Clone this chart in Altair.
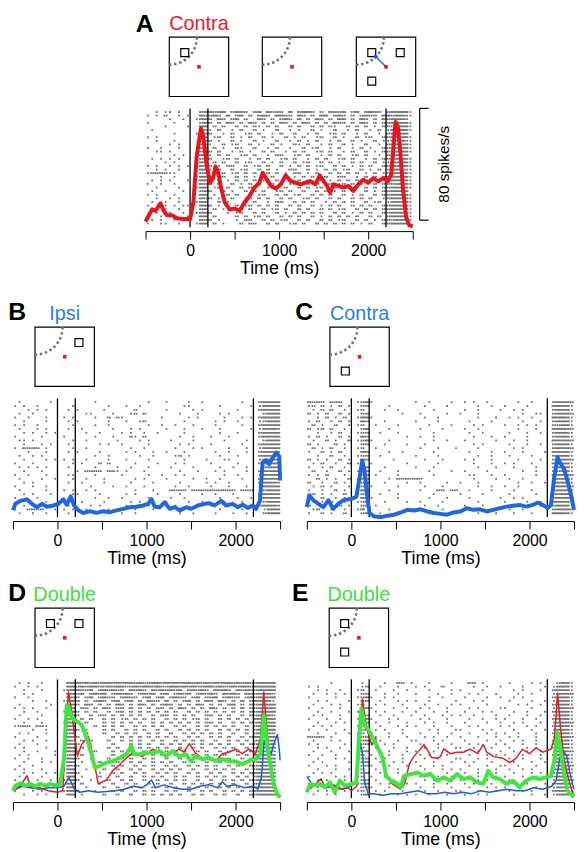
import altair as alt
import pandas as pd

FONT = "Liberation Sans"
RED, BLUE, GREEN = "#e8161c", "#1f66e5", "#3fe63f"
RED_THIN, BLUE_THIN = "#d9232a", "#1f5fd6"
TITLE_RED, TITLE_BLUE, TITLE_GREEN = "#e02229", "#2b7de3", "#40e040"
GRAY = "#707070"

EVENTS = [0, 200, 2200]
TICKS = [-500, 0, 500, 1000, 1500, 2000, 2500]
T0, BIN = -500, 50
W, H = 270, 120
RATE_MAX = 85

# ---------------- PSTH data (spikes/s) ----------------
A_T = [-500, -463, -426, -389, -333, -296, -259, -204, -148, -74, 0, 37, 74, 122, 148, 185, 222, 259, 285, 315,
       352, 389, 444, 500, 556, 611, 667, 722, 778, 815, 852, 907, 963, 1019, 1074, 1130, 1185, 1241, 1296, 1352,
       1407, 1456, 1500, 1537, 1574, 1611, 1667, 1722, 1778, 1833, 1889, 1944, 2000, 2056, 2111, 2167, 2222, 2259,
       2278, 2307, 2333, 2359, 2389, 2426, 2463, 2500]
A_RED = [4.0, 8.5, 12.7, 11.7, 17.0, 11.7, 8.5, 8.5, 6.4, 5.8, 5.8, 17.7, 50.7, 70.7, 64.7, 45.6, 31.8, 35.0, 43.5, 39.2,
         27.1, 17.7, 12.7, 13.3, 11.7, 17.7, 22.3, 28.3, 31.8, 38.9, 35.0, 29.5, 27.6, 30.7, 37.1, 32.9, 31.8, 30.7, 31.8, 32.9,
         30.7, 37.1, 32.9, 29.5, 24.7, 30.7, 29.5, 28.3, 29.5, 25.9, 30.7, 33.9, 31.8, 35.0, 32.9, 35.0, 32.9, 37.7,
         53.0, 75.3, 72.1, 55.1, 28.3, 7.1, 1.2, 0.7]

B_T = [-500, -473, -417, -343, -287, -231, -175, -119, -45, 11, 67, 104, 149, 186, 235, 291, 365, 440, 514, 589,
       663, 738, 813, 887, 962, 1018, 1055, 1092, 1148, 1204, 1260, 1316, 1372, 1446, 1502, 1577, 1651, 1707, 1763, 1838,
       1893, 1968, 2024, 2080, 2136, 2192, 2229, 2274, 2303, 2341, 2378, 2415, 2460, 2490, 2500]
B_BLUE = [5.0, 9.5, 11.6, 12.7, 9.5, 7.1, 9.5, 7.4, 8.3, 9.5, 12.7, 8.9, 14.8, 8.3, 4.8, 3.0, 4.2, 3.0, 4.2, 3.5,
          4.8, 5.9, 7.1, 7.4, 8.3, 9.5, 12.9, 7.4, 7.1, 10.6, 5.9, 7.1, 4.8, 7.1, 5.9, 8.3, 9.5, 9.9, 8.3, 11.7,
          8.3, 9.5, 7.1, 8.9, 6.6, 8.3, 5.9, 11.7, 39.1, 40.7, 37.9, 42.4, 46.2, 43.5, 26.2]

C_T = [-500, -474, -426, -370, -315, -259, -204, -148, -93, -37, 0, 56, 93, 122, 148, 178, 204, 259, 333, 407,
       481, 556, 630, 704, 778, 852, 926, 1000, 1074, 1148, 1222, 1296, 1370, 1444, 1519, 1593, 1667, 1741, 1815, 1889,
       1963, 2037, 2093, 2148, 2204, 2241, 2278, 2315, 2352, 2389, 2426, 2463, 2500]
C_BLUE = [7.1, 15.6, 12.0, 9.5, 7.1, 12.0, 5.9, 9.5, 12.0, 12.7, 12.9, 14.6, 28.5, 40.3, 33.2, 14.6, 2.9, 0.4, 0.0, 1.0,
          1.7, 3.3, 5.2, 4.7, 5.6, 4.0, 2.9, 2.3, 1.7, 3.3, 4.0, 6.4, 5.2, 5.6, 4.0, 5.2, 6.4, 7.5, 8.1, 8.7,
          7.5, 8.7, 10.4, 8.7, 6.4, 8.7, 28.5, 42.6, 37.9, 34.3, 26.2, 16.7, 5.2]

DG_T = [-500, -472, -416, -361, -305, -249, -193, -138, -82, -26, 30, 74, 104, 130, 160, 216, 271, 327, 383, 420,
        476, 550, 625, 699, 773, 829, 866, 922, 996, 1071, 1145, 1219, 1294, 1368, 1442, 1498, 1554, 1628, 1703, 1777,
        1851, 1926, 2000, 2074, 2149, 2223, 2279, 2316, 2353, 2390, 2428, 2465, 2500]
D_GREEN = [5.4, 8.9, 10.6, 8.9, 10.2, 8.3, 10.2, 8.9, 10.2, 8.9, 10.2, 28.6, 66.7, 64.3, 57.2, 54.9, 52.6, 43.1, 31.4, 21.9,
           23.1, 25.4, 26.6, 28.9, 31.4, 37.2, 31.4, 31.4, 32.5, 32.5, 33.7, 30.1, 33.7, 30.1, 31.4, 26.6, 30.1, 27.8, 28.9, 26.6,
           27.8, 26.6, 26.2, 24.3, 26.6, 27.8, 31.4, 59.6, 38.4, 24.3, 10.2, 3.1, 0.5]
DR_T = [-500, -420, -342, -305, -200, -100, 0, 60, 86, 123, 160, 197, 223, 271, 346, 400, 457, 550, 625, 700,
        773, 850, 950, 1071, 1145, 1220, 1300, 1368, 1420, 1480, 1554, 1628, 1700, 1777, 1850, 1926, 2000, 2074, 2149, 2223,
        2279, 2316, 2353, 2400, 2440, 2500]
D_RED = [5.3, 8.5, 16.0, 8.5, 7.4, 5.3, 4.2, 5.3, 38.0, 76.0, 61.5, 43.0, 30.0, 38.4, 44.3, 30.0, 10.2, 13.0, 20.0, 24.0,
         28.6, 32.9, 29.7, 35.0, 32.9, 30.7, 32.9, 35.0, 33.0, 39.0, 31.8, 28.6, 27.6, 26.5, 31.8, 32.9, 35.0, 31.8, 35.0, 31.8,
         42.4, 76.0, 47.7, 15.9, 5.3, 0.5]
DB_T = [-500, -400, -300, -200, -100, 0, 70, 130, 190, 250, 350, 450, 550, 650, 750, 850, 950, 1000, 1055, 1100,
        1200, 1300, 1400, 1500, 1600, 1700, 1800, 1850, 1900, 2000, 2100, 2200, 2250, 2290, 2320, 2360, 2400, 2430, 2470, 2490,
        2500]
D_BLUE = [5.3, 8.5, 7.4, 6.4, 7.4, 7.4, 8.5, 14.8, 6.4, 4.2, 5.3, 4.2, 4.8, 5.3, 6.4, 8.5, 7.4, 9.5, 13.0, 7.4,
          9.5, 7.4, 6.4, 6.4, 8.5, 9.5, 7.4, 11.7, 8.5, 9.5, 7.4, 8.5, 6.4, 14.8, 41.0, 35.0, 31.8, 39.0, 45.6, 35.0,
          27.0]

EG_T = [-500, -463, -407, -352, -296, -241, -185, -130, -74, 0, 56, 81, 111, 148, 204, 259, 315, 352, 389, 444,
        519, 556, 593, 667, 741, 815, 889, 963, 1037, 1111, 1185, 1259, 1333, 1407, 1481, 1537, 1593, 1667, 1741, 1815,
        1889, 1963, 2037, 2111, 2185, 2241, 2278, 2315, 2352, 2389, 2426, 2500]
E_GREEN = [4.2, 10.2, 8.9, 10.2, 7.7, 11.3, 4.2, 12.5, 8.9, 10.2, 11.3, 38.4, 64.3, 52.6, 47.8, 40.7, 33.7, 28.9, 16.0, 12.5,
           10.2, 7.7, 16.0, 17.2, 18.3, 16.0, 17.2, 12.5, 14.8, 12.5, 17.2, 13.7, 14.8, 11.3, 10.2, 19.5, 14.8, 13.7, 10.2, 12.5,
           7.7, 12.5, 14.8, 13.7, 14.8, 16.0, 26.6, 46.6, 33.7, 17.2, 5.4, 0.7]
ER_T = [-500, -450, -340, -300, -200, -100, -40, 0, 60, 90, 111, 125, 150, 180, 230, 270, 300, 350, 400, 450,
        500, 550, 600, 650, 700, 760, 815, 850, 900, 960, 1000, 1037, 1111, 1185, 1260, 1333, 1420, 1480, 1520, 1600,
        1700, 1780, 1850, 1920, 2000, 2074, 2150, 2240, 2280, 2315, 2352, 2390, 2430, 2470, 2500]
E_RED = [5.3, 7.4, 13.8, 8.5, 9.5, 6.4, 7.4, 5.3, 8.5, 37.0, 58.0, 71.0, 58.0, 48.0, 38.0, 43.0, 35.0, 26.5, 16.0, 10.6,
         8.5, 6.4, 10.6, 24.4, 29.7, 34.0, 38.2, 35.0, 29.0, 28.6, 29.7, 35.3, 31.8, 32.9, 32.9, 35.0, 31.8, 38.4, 32.9, 29.7,
         28.6, 25.4, 28.6, 34.9, 31.8, 36.0, 32.9, 35.0, 42.4, 75.0, 47.7, 26.5, 15.9, 6.4, 2.1]
EB_T = [-500, -470, -430, -380, -330, -280, -200, -130, -60, 0, 60, 100, 125, 150, 190, 250, 350, 450, 550, 650,
        750, 850, 950, 1050, 1150, 1250, 1350, 1450, 1550, 1650, 1750, 1850, 1950, 2050, 2150, 2250, 2300, 2340, 2380, 2420,
        2460, 2500]
E_BLUE = [15.6, 12.7, 8.5, 9.5, 8.5, 7.4, 8.5, 6.4, 7.4, 8.5, 12.7, 39.3, 31.8, 10.6, 3.2, 3.2, 2.1, 3.2, 3.2, 4.2,
          5.3, 3.2, 3.2, 4.2, 3.2, 4.2, 3.2, 5.3, 4.2, 5.3, 6.4, 5.3, 5.3, 7.4, 6.4, 8.5, 12.7, 28.6, 33.9, 29.7,
          15.9, 6.4]

# ---------------- Rasters: spikes per 50 ms bin, -500..2500 ms (60 bins per trial) ----------------
A_RASTER = [
    "..1.11.1.." "..23" "3223.2332." "23.3222.3." "2332.2.322" "3.23.2322." "233331",
    "1.1.2..1.1" "..32" "232.3.23.2" ".232.3322." "32.2.33.23" "2.2.2322.3" "323321",
    ".....1..1." ".133" "2.32.23.2." ".32.2.232." "3.2.32.2.3" "3.2.32.2.3" "233320",
    "1.....1..." "..23" "2.2.32.2.3" "2.2.2.32.2" ".32.2.2.32" "2.2.32.2.2" "233331",
    "....1....1" "..33" ".2.2..2.2." "21.2.2..2." "2..2.2.21." ".2.2.2.1.2" "223331",
    ".1........" "..32" "1.2..1.2.." "2.1..2..1." "1..2.1..2." ".1.2..1.2." "133331",
    "......1..." ".123" "2..1.2..12" ".2..1.2..2" "..1.2..12." "2..1.2..1." "233330",
    "1.1......." "..33" ".12..2.1.2" "..2.1..2.1" ".2..12..2." "1..2.12..2" "233331",
    "..1...1..." "..23" "2.1..2.1.." "2.1..2..1." "2.1.2..1.2" "..2.1..2.1" "133321",
    ".....1.1.." "..32" "1..2.12..2" ".1..2.1..2" "1.2..1.2.." "2.1..2..1." "233331",
    "1..1...1.." ".133" ".2.1..21.." "2..1.2..1." ".2.12..1.2" "..1.2.1..2" "233331",
    "..11.1...." "..23" "2.2..1.2.1" "..2.2..1.2" ".2..12.2.." "1.2..2.1.2" "223331",
    "......1.1." "..33" "1.2.2..12." "2..1.22..1" "2.2..1.2.2" "..12.2..1." "233330",
    ".1.1.1.1.." ".123" "2..12.2..1" ".2.2..12.2" "..1.2.2..1" "2.2..1.2.2" "233331",
    "....1.1..." "..33" ".2.2..2.12" "..2.1.2..2" ".12..2.2.1" "..2.2..2.1" "133331",
    "1.1..1.1.1" "..32" "2.1.22..2." "12.2..2.1." "2.2.12..2." "2.1.2.2..2" "233331",
    "..1.1..1.." "..33" "1.2..2.12." ".2.2.1..22" "..2.1.2.2." "12..2.1.2." "233321",
    "1222211..." "..23" ".2.2.12.2." "2..2.2.1.2" "2.1.2..2.2" ".2.2.1.2.1" "233331",
    "...1..1..." ".133" "2.12..2.2." "1.2.2..2.1" ".2.2.12..2" "2..1.2.2.2" "233331",
    ".1.1.1...1" "..33" "..2.1.2.2." "2.12.2..2." "2.2..2.1.2" ".2.2.2..2." "233331",
    "1..1..1..." "..32" "2.2..2.1.2" ".2..2.2.12" "..2.2..2.1" "2.2.1..2.2" "223331",
    "..1....1.." ".133" ".12.2..2.2" "2..1.2.2.." "2.2.12..2." "1.2..2.2.2" "233331",
    ".1..1...1." "..23" "2..2.1..2." "2.2..12.2." ".2..2.2.1." "2.2..2.1.2" "233330",
    "1.1...1..." "..33" ".1..2.2..2" ".12..2.2.1" "2..2.2.2.." "2.1.2..2.2" "233331",
    "..1..1.1.." "..32" "2.1..2..12" ".2.2..2.2." ".12.2..2.2" "..2.2.2..1" "233331",
    ".1..1..1.." ".133" "..2.1...2." "2..1.22..2" ".2.2..1.2." "2.2..2.12." "133331",
    "1...1.1.11" "..33" "2.1...2.12" ".2.2.2..2." "2..2.1.2.2" "..2.2.2..2" "233331",
    ".11.1..1.." "..23" ".2.1...2.2" "..2.12.2.." "2.2..2.2.1" "2..2.2.2.2" "233321",
    "..1..1..1." ".133" "2...1.12.." "2.2..2.1.2" ".2.2.2..2." "2.1.2.2..2" "233331",
    "1..1.1...1" "..33" ".2....2.2." "12.2..2.2." "2..2.1.2.2" ".2.2..2.2." "233331",
    ".1.1..1.1." "..32" "2.1...1.22" "..2.2.12.." "2.2..2.2.1" "2..2.2.1.2" "223331",
    "1..11..1.." ".133" ".2.1...2.2" "2..2.2..12" ".2..2.2.2." "2.2.1.2..2" "233330",
]

B_RASTER = [
    ".1......1." "...." "....1....." "......1..." "1....1..1." ".......1.." ".23333",
    "1.1..1...." "...1" ".......1.." ".1..1....." "....11...." "..1......1" ".13333",
    "...1.1.1.." "..1." "1.....1..." "...2......" "1.....1.1." "......1..." ".23333",
    ".1..1....." "...." "..11....1." "..12.2...." "...1...1.." "..1.1....." "..2333",
    "1..1...1.." ".1.1" "....1..2.2" "1........1" ".....1.1.." "...1...1.1" ".23333",
    "..1....1.." "..1." "1......1.." ".1..12...." "....1....." ".1.1..1..." ".12333",
    "1.1..1...." "...1" "....1..1.." "......1..1" "..1...1..." ".1.....1.." ".23333",
    ".1...1.1.." "..1." ".1......1." "..1.1....." "1...1...1." "..1......1" ".13332",
    "..1.1..1.1" "...." "..1..1...." "1.1..1..1." "....1....." "..1...1..." ".23333",
    "1.....1..." ".1.." "....1...1." "..21.2...." "...1..1..." "1...1....." ".23333",
    ".11.1....." "...1" "..1......1" "....1.1..." ".1....1..." "...1....1." "..2333",
    "..1...1.1." "..1." ".....1.1.." "1.....1..." "...1.1...." "1......1.." ".23333",
    "1.2222.1.." "...1" "..1......." "..1..1...." "..1...1.1." "....1...1." ".13333",
    "...1...1.." "..1." "1....1...." ".1.1...1.." "1...1....." ".1..1...1." ".23332",
    ".1..1.1..." "...." "....1..1.." "....1..1.." "..12.1...." "..1...1..." ".23333",
    "..1....1.1" ".1.1" "..1....1.." ".1....1..." "....1....1" "...11....." ".13333",
    "1...1....." "...1" ".1...2.2.." "...1....1." "..1.1....." "1.....1..." ".23333",
    ".1.1.1.1.." "..1." "....1....1" "..1...1..." ".1....1..." "..1..1..1." "..2333",
    "..1...1..." "...." "1.2222.221" ".1...1...." "...1...1.." ".1.1....1." ".23333",
    "1..1...1.." "..11" "....1....." "1.....1..1" "..1.1....." "...1..1..." ".13333",
    ".1....1..1" "...1" "..1...1..." "...1.1...." "1.....1..1" "..1....1.." ".23333",
    "..1.1....." "..1." ".1....1..." "..1....1.." "...1.....1" ".1..1....." ".23332",
    "1...1..1.." "...." "...1....1." ".1...1...." "..1..1...." "1...1...1." ".13333",
    ".1.....1.." ".1.1" "..1.1....." "...1...1.." ".2222.2222" "222222.222" "..2333",
    "..1.1...1." "...1" "1....1...." ".1.1....1." "...1....1." ".1...1...." ".23333",
    "1....1...." "..1." "....1..1.." "1.....1..." ".1..1....." "..1...1..1" ".13333",
    ".1.1...1.." "...." ".1....1..." "..1.1....." "1....1..1." "...1...1.." ".12333",
    "..1...1..1" "..1." "...1.1...." ".1....1..1" "..1....1.." "1...1....." ".23332",
    "1..2222..1" ".1.1" "..1....1.." "...1...1.." ".1...1...." "..1....1.." "..1333",
    ".1..1..1.." "..1." ".1.....1.." "1..1......" "...1..1..." ".1...1..1." "..2333",
]

C_RASTER = [
    "2222.222.." ".123" "1........." "1..1....1." ".1.1..1..." "...1..1..." ".23332",
    "12.2.1.2.1" "..22" "....1....." "..1....1.." "....1..1.." "1....1...." ".33331",
    ".1.2.2..1." ".12." "...1..1..." "....1....." ".1..1....1" "..1.1....." ".23331",
    "2.1.2..2.1" "..22" ".......1.." ".1.....1.." "1...1....." "....1..11." ".23332",
    "..1.2.1.2." ".133" "1........." "..1..1...." "....1...1." ".1.1..1..." ".33331",
    "1.2..1.2.1" "..32" "...1......" "1....1...." "..1....1.." "....1...1." ".23331",
    ".2.1..2..1" ".12." ".1....1..." "...1....1." "...1.1...." "1..1.1.1.." ".22331",
    "2.12.2..1." "..23" "....1....." ".1....1..." ".1..1....." "...1...1.." ".33332",
    "..1..1.2.." ".122" "..1...1..." "....1....." "..1..1...." ".1...1..1." ".23331",
    "1.2.1..2.1" "..32" "........1." ".1..1....." "...1...1.." "1....1...." ".23331",
    ".1..2.1..2" ".123" "1...1....." "....1..1.." ".1......1." "..1..1...." ".33332",
    "2.1...2.1." "..22" "...1....1." "..1......." "...1.1...." ".1...1..1." ".23331",
    ".2.1.2..1." ".12." ".1........" ".1...1...1" "....1....." "..1.1....." ".23332",
    "1..2.1.2.." "..33" "....1..1.." "....1....." "..1....1.." "1...1....1" ".33331",
    "..1..2..1." ".122" "..1......." "1....1...." "....1..1.." ".1....1..." ".23331",
    "2.1.1..2.1" "..32" ".....1...." "..1...1..." ".1.1...1.." "...1....1." ".23332",
    ".1.2..1..2" ".12." "1.......1." ".....1...." "...1...1.." "1.1...1..." ".33331",
    "1..1.2..1." "..23" "...1......" "1...1....." "....1...1." "..1....1.." ".23331",
    ".2..1..2.1" ".123" "..1...1..." "...1....1." ".1....1..." "....1..1.." ".22331",
    "1.1.2...1." "..22" ".1....1..." "....1....." "..11...1.." "1......1.." ".33332",
    "..2.1.1..2" ".132" "....1.2222" "22........" "...1....1." ".1..1....." ".23331",
    "2..1..2.1." "..23" "...1....1." ".1.....1.." "1...1....." "...1..1..1" ".23331",
    ".1.2.1...1" ".12." "1.....1..." "..1...1..." "....1..1.." "1..1......" ".33332",
    "1..1..2.1." "..33" "....1....." ".1...22.22" "..1....1.." "..1...1..." ".23331",
    ".2.1.1..2." ".122" "..1...1..." "....1....." "1....1...." ".1.....1.." ".23331",
    "1..2..1.1." "..32" "1.....1..." "...1...1.." "..1......1" "..1.1....." ".23332",
    ".1.1.2..1." ".123" "...1....1." ".1....1..." "....1....." "1....1..1." ".33331",
    "2..1...2.1" "..22" ".1........" "..1..1...." ".1...1...." "...1....1." ".23331",
    ".12..1..1." ".13." "....1...1." "1.....1..." "..1....1.." ".1..1....." ".23332",
    "1..2.1..2." "..23" "..1......." "...1.1...." "....1...1." "..1...1..." ".33331",
]

D_RASTER = [
    ".1.1..1..." "..33" "3232323323" "2332322332" "3232332323" "2323323232" "23333.",
    "1..1.1...." "..33" "2323322323" "3223233232" "2332323223" "3232232332" "33333.",
    "..1...1..." ".133" "3223.23232" "2.3232.323" "2323.23232" ".3232.3232" "23333.",
    "..1.1....." "..33" "23.2323.23" "232.2323.2" "3.2323.232" "32.3232.32" "23332.",
    "1..1......" "..32" "2.23.2322." "2322.23.23" ".2322.23.2" "23.2322.23" "23333.",
    "....1..1.." ".133" "3.2.232.23" ".23.2.322." "3.2.23.2.3" "2.32.2.3.2" "33331.",
    ".1......1." "..33" "2.32.2.2.3" "2.2.32.2.2" "32.2.2.32." "2.2.23.2.2" "23333.",
    "1.1.1..1.." "..33" ".22.2.32.2" "2.3.2.2.22" ".2.32.2.2." "32.2.2.3.2" "23333.",
    "..1..1...." ".123" "2.2.2..2.2" "2.2.2.2.2." "2.2..2.2.2" ".2.2.2.2.2" "23333.",
    ".1....1..." "..33" "2..2.22.2." "2.2.2..2.2" "2.2.2.2..2" "2.2.2..2.2" "23332.",
    "1..1.1...." "..32" ".2.2..2.2." "12.2.2.2.." "2.2.2.12.2" "..2.2.2.2." "33333.",
    "..1...1..." ".133" "2.2...2.2." "2.2.2..2.2" ".2.2.2.2.2" "2.2..2.2.2" "23333.",
    "1222.221.." "..33" ".2..2.2.2." "2..2.2.2.2" "..2.2..2.2" ".2.2.2..2." "23333.",
    "....1..1.." "..33" "2.1...2.2." ".2.2.2..2." "2..2.2.2.2" "..2.2.2.2." "23333.",
    ".1.1...1.." ".123" "..2...2..2" ".2.2..2.2." ".2..2.2.2." "2.2..2..2." "23332.",
    "1....1...." "..33" "2.2.....2." "2.2.2.2.2." "2.2..2.2.." "2.2.2..2.2" "33333.",
    "..1.1..1.." "..32" ".2.2...2.." "2.2.2..2.2" "..2.2.2.2." ".2..2.2.2." "23333.",
    ".1...1...." ".133" "2..1....2." "..2.2.2..2" ".2.2..2.2." "2.2.2..2.2" "23333.",
    "1.1....1.." "..33" ".2.1...2.2" "..2.2.2.2." "2..2..2.2." ".2.2.2..2." "23333.",
    "..1..1...1" "..33" "2...2...2." "2.2..2.2.." "2.2.2..2.2" "..2.2.2..2" "23332.",
    ".1.1.....1" ".123" ".2.1....2." "..2.2..2.2" "..2.2.2..2" ".2.2..2.2." "33333.",
    "1..1..1..." "..33" "2..1...2.." "2.2..2.2.." "2..2.2.2.." "2.2.2..2.2" "23333.",
    "..1...1.1." "..33" ".1...2...2" "..2.2..2.2" ".2..2.2..2" "..2.2.2.2." "23333.",
    ".1..1....." "..32" "2...1...2." "2..2.2.2.." "2.2..2.2.2" ".2..2.2..2" "23333.",
    "1.1...1..." ".133" "..1...2..2" "..2.2..2.2" ".2.2..2..2" ".2.2.2..2." "23332.",
    "..1.1..1.1" "..33" "2....1..2." "2..2.2..2." "2.2..2.2.." "2.2..2.2.2" "33333.",
    ".1....1..." "..33" ".1...2...2" "..2..2.2.2" "..2.2..2.2" ".2.2..2.2." "23333.",
    "1..1.1..1." ".123" "2..1...2.." "2.2..2..2." "2.2.2..2.." "2..2.2.2.2" "23333.",
    "..1...1..." "..33" ".2...1..2." ".2.2..2.2." ".2..2.2.2." "2.2..2..2." "23333.",
    ".1.1...1.1" "..33" "..1...2..2" "..2.2..2.." "2.2..2.2.2" "..2.2.2..2" "23332.",
    "1...1.1..." ".133" "2...1...2." "2..2.2.2.." "2.2..2..2." "2..2.2.2.2" "33333.",
    "..1..1.1.." "..33" ".1....2..2" "..2..2.2.2" ".2.2..2.2." ".2.2..2..2" "23333.",
]

E_RASTER = [
    ".....1...." "..1." "...1..22.1" "...1....1." "..22.1...." ".1....1.1." "..2331",
    "1.1......." "..12" "..1...1..." "1.1...2..." "...1..1..1" "....1....1" ".13331",
    "..1.1..1.." ".12." ".1...1..1." "...1....1." "1....1...." "..1.1...1." ".23331",
    ".1..1.1.1." "..22" "...1..1..." "1....1..1." "..1.1...1." "...1..1..." ".13332",
    "1.....1..." ".123" "1..1.1...." "...1..1..." ".1....1..1" "..1.1....." ".23331",
    "..1.1....1" "..22" "..1...1.1." "1..1.....1" "...1.1...." ".1....1..1" ".13331",
    ".1...1.1.." ".12." ".1.1...1.." "..1..1..1." "1.....1..." "...1.1..1." ".23331",
    "1..1...1.." "..23" "1....1..1." ".1.1...1.." "..1.1....1" "1.....1..." ".13332",
    "..1..1...1" ".12." ".1.1...1.." "1...1..1.." ".1...1.1.." "..1..1...1" ".23331",
    ".1.1...1.." "..22" "..1..1...1" "..1...1.1." "1..1....1." ".1...1..1." ".13331",
    "1...1..1.." ".123" "1...1.1..." ".1.1...1.." "..1..1..1." "1...1..1.." ".23331",
    "..1...1.1." "..22" ".1..1...1." "..1.1..1.." ".1....1..1" "..1.1...1." ".13332",
    ".1.1.1...." ".12." "..1...1.1." "1...1...1." "..1.1....1" ".1...1.1.." ".23331",
    "1...1...1." "..23" ".1.1...1.." "...1.1...1" "1....1.1.." "..1...1..1" ".13331",
    "..1...1..1" ".12." "1...1..1.." ".1...1..1." "..1...1.1." "1..1...1.." ".23331",
    "2222.1...." "..22" ".1..1...1." "..1.1..1.." "1...1...1." ".1.1...1.." ".13332",
    ".1...1.1.." ".123" "..1...1..1" "1...1.1..." ".1....1..1" "..1.1..1.." ".23331",
    "1.1.....1." "..22" "1..1.1...." ".1...1..1." "..1.1...1." "1...1..1.." ".13331",
    "..1.1..1.." ".12." ".1...1..1." "..1..1...1" "1..1...1.." ".1...1.1.." ".23331",
    ".1...1...1" "..23" "..1.1...1." "1...1..1.." ".1..1....1" "..1..1..1." ".13332",
    "1..1..1..." ".12." "1...1..1.." ".1.1...1.." "..1...1.1." "1...1...1." ".23331",
    "..1...1.1." "..22" ".1.1...1.." "..1..1...1" "1...1.1..." ".1..1...1." ".13331",
    ".1.1.....1" ".123" "..1..1.1.." "1...1...1." ".1.1...1.." "..1...1..1" ".23331",
    "1...1.1..." "..22" "1...1...1." ".1..1.1..." "..1...1..1" "1..1...1.." ".13332",
    "..1...1..1" ".12." ".1.1..1..." "..1...1.1." "1...1...1." ".1..1.1..." ".23331",
    ".1.1.1...." "..23" "..1...1..1" "1..1...1.." ".1..1...1." "..1...1.1." ".13331",
    "1.....1.1." ".12." "1..1...1.." ".1...1..1." "..1.1...1." "1...1..1.." ".23331",
    "..1.1...1." "..22" ".1...1.1.." "..1.1...1." "1...1.1..." ".1...1..1." ".13332",
    ".1...1...1" ".123" "..1.1...1." "1...1..1.." ".1.1...1.." "..1..1...1" ".23331",
    "1.1...1..." "..22" "1...1..1.." ".1..1...1." "..1...1.1." "1..1...1.." ".13331",
    "..1.1...1." ".12." ".1.1...1.." "..1..1...1" "1...1...1." ".1..1.1..." ".23331",
    ".1..1.1..." "..23" "..1...1.1." "1..1...1.." ".1..1.1..." "..1...1..1" ".13332",
]

# ---------------- Task diagram geometry (unit square -1..1, fixation at centre) ----------------
TARGET_POS = {"UL": (-0.48, 0.48), "UR": (0.48, 0.48), "LL": (-0.48, -0.48)}
ARC_X = [-0.07, -0.102, -0.195, -0.342, -0.535, -0.759, -1.0]
ARC_Y = [1.0, 0.759, 0.535, 0.342, 0.195, 0.102, 0.07]
ARROW_X = [0.0, -0.36]
ARROW_Y = [0.0, 0.36]


def raster_df(rows):
    recs = []
    for i, row in enumerate(rows):
        row = row.ljust(60, ".")[:60]
        for b, ch in enumerate(row):
            if ch.isdigit():
                c = int(ch)
                for k in range(c):
                    recs.append({"t": T0 + b * BIN + (k + 0.5) * BIN / c, "trial": i})
    return pd.DataFrame(recs)


xscale = alt.Scale(domain=[-500, 2500], nice=False, zero=False)
xaxis = alt.Axis(values=TICKS, labelExpr="datum.value % 1000 === 0 ? datum.label : ''", format="d",
                 title="Time (ms)", orient="bottom", offset=4, tickSize=8, labelPadding=4, titlePadding=1,
                 grid=False, domainColor="black", tickColor="black", labelColor="black", titleColor="black",
                 labelFontSize=16, titleFontSize=18, titleFontWeight="normal", labelFont=FONT, titleFont=FONT,
                 labelOverlap=False, labelFlush=False, domainWidth=1, tickWidth=1)
X = alt.X("t:Q", scale=xscale, axis=xaxis)
rscale = alt.Scale(domain=[0, RATE_MAX], nice=False, zero=False)
RY = lambda f: alt.Y(f, type="quantitative", scale=rscale, axis=None)


def diagram(x0, targets, arrow=False, y0=-72, size=60):
    xs = alt.Scale(domain=[-1, 1], range=[x0, x0 + size], nice=False, zero=False)
    ys = alt.Scale(domain=[-1, 1], range=[y0 + size, y0], nice=False, zero=False)
    DX = lambda f: alt.X(f, type="quantitative", scale=xs, axis=None)
    DY = lambda f: alt.Y(f, type="quantitative", scale=ys, axis=None)
    frame = alt.Chart(pd.DataFrame({"x": [-1], "x2": [1], "y": [-1], "y2": [1]})).mark_rect(
        fillOpacity=0, stroke="black", strokeWidth=1.2).encode(x=DX("x"), x2="x2:Q", y=DY("y"), y2="y2:Q")
    arc = alt.Chart(pd.DataFrame({"x": ARC_X, "y": ARC_Y, "o": list(range(len(ARC_X)))})).mark_line(
        color="#707070", strokeWidth=2.6, strokeDash=[2.4, 2.8], interpolate="natural").encode(
        x=DX("x"), y=DY("y"), order="o:Q")
    fix = alt.Chart(pd.DataFrame({"x": [0], "y": [0]})).mark_square(
        filled=True, size=13, color="#e31a1c", opacity=1).encode(x=DX("x"), y=DY("y"))
    layers = [frame, arc]
    if targets:
        tdf = pd.DataFrame({"x": [TARGET_POS[k][0] for k in targets], "y": [TARGET_POS[k][1] for k in targets]})
        layers.append(alt.Chart(tdf).mark_square(filled=False, size=64, color="black", strokeWidth=1.2,
                                                 opacity=1).encode(x=DX("x"), y=DY("y")))
    if arrow:
        adf = pd.DataFrame({"x": ARROW_X, "y": ARROW_Y})
        layers.append(alt.Chart(adf).mark_line(color=BLUE, strokeWidth=1.5).encode(x=DX("x"), y=DY("y")))
        layers.append(alt.Chart(adf.iloc[[1]]).mark_point(shape="triangle-up", filled=True, size=28, color=BLUE,
                                                          opacity=1, angle=315).encode(x=DX("x"), y=DY("y")))
    layers.append(fix)
    return alt.layer(*layers)


def panel(letter, letter_dx, title, title_color, title_cx, rows, lines, boxes,
          letter_y=-99.3, title_y=-95.5, pin_top=-112, pin_bottom=None, bracket=False):
    n = len(rows)
    # white (invisible on the white page) frame, drawn first, that fixes the extent used by the layout
    pin = alt.Chart(pd.DataFrame({"v": [0]})).mark_rect(color="white", opacity=1, strokeWidth=0).encode(
        x=alt.value(-2.6), x2=alt.value(-1.6), y=alt.value(pin_top), y2=alt.value(pin_bottom if pin_bottom else H))
    raster = alt.Chart(raster_df(rows)).mark_square(size=3.2, color=GRAY, opacity=1).encode(
        x=X, y=alt.Y("trial:Q", scale=alt.Scale(domain=[-1, n], reverse=True, nice=False, zero=False), axis=None))
    ev = alt.Chart(pd.DataFrame({"t": EVENTS})).mark_rule(color="black", strokeWidth=1.3).encode(x=X)
    layers = [raster, ev]
    for tt, rr, col, sw in lines:
        layers.append(alt.Chart(pd.DataFrame({"t": tt, "r": rr})).mark_line(
            color=col, strokeWidth=sw, strokeJoin="round").encode(x=X, y=RY("r")))
    if bracket:
        layers.append(alt.Chart(pd.DataFrame({"lo": [5], "hi": [85]})).mark_rule(
            color="black", strokeWidth=1.2).encode(x=alt.value(277), y=RY("lo"), y2="hi:Q"))
        layers.append(alt.Chart(pd.DataFrame({"v": [5, 85]})).mark_rule(
            color="black", strokeWidth=1.2).encode(x=alt.value(277), x2=alt.value(286), y=RY("v")))
        layers.append(alt.Chart(pd.DataFrame({"v": [45], "s": ["80 spikes/s"]})).mark_text(
            angle=270, fontSize=15.5, font=FONT, align="center", baseline="middle", color="black").encode(
            x=alt.value(302), y=RY("v"), text="s:N"))
    inner = alt.layer(*layers).resolve_scale(y="independent")
    outer = [pin, inner] + [diagram(*b) for b in boxes]
    outer.append(alt.Chart(pd.DataFrame({"s": [letter]})).mark_text(
        align="left", baseline="top", font=FONT, fontSize=25, fontWeight="bold", color="black").encode(
        x=alt.value(letter_dx), y=alt.value(letter_y), text="s:N"))
    outer.append(alt.Chart(pd.DataFrame({"s": [title]})).mark_text(
        align="center", baseline="top", font=FONT, fontSize=20, color=title_color).encode(
        x=alt.value(title_cx), y=alt.value(title_y), text="s:N"))
    return alt.layer(*outer).resolve_scale(x="independent", y="independent").properties(width=W, height=H)


pa = panel("A", -10, "Contra", TITLE_RED, 54, A_RASTER, [(A_T, A_RED, RED, 4)],
           [(24, ["UL"], False), (118, [], False), (213, ["UL", "UR", "LL"], True)],
           letter_y=-97, title_y=-95.5, pin_bottom=180.5, bracket=True)
pb = panel("B", -4.7, "Ipsi", TITLE_BLUE, 52.3, B_RASTER, [(B_T, B_BLUE, BLUE, 4)], [(22.3, ["UR"], False)],
           pin_bottom=172)
pc = panel("C", -11.7, "Contra", TITLE_BLUE, 53.3, C_RASTER, [(C_T, C_BLUE, BLUE, 4)], [(23.3, ["LL"], False)],
           pin_bottom=172)
pdd = panel("D", -4.7, "Double", TITLE_GREEN, 52.3, D_RASTER,
            [(DB_T, D_BLUE, BLUE_THIN, 1.5), (DR_T, D_RED, RED_THIN, 1.5), (DG_T, D_GREEN, GREEN, 4)],
            [(22.3, ["UL", "UR"], False)])
pe = panel("E", -15, "Double", TITLE_GREEN, 52.6, E_RASTER,
           [(EB_T, E_BLUE, BLUE_THIN, 1.5), (ER_T, E_RED, RED_THIN, 1.5), (EG_T, E_GREEN, GREEN, 4)],
           [(22.6, ["UL", "LL"], False)])

spacer = alt.Chart(pd.DataFrame({"v": [0]})).mark_point(opacity=0).encode(
    x=alt.value(60), y=alt.value(5)).properties(width=124, height=10)

row_a = alt.hconcat(spacer, pa, spacing=0)
row_bc = alt.hconcat(pb, pc, spacing=13)
row_de = alt.hconcat(pdd, pe, spacing=10)
chart = alt.vconcat(row_a, row_bc, row_de, spacing=0).properties(
    padding={"left": 0, "top": -15, "right": 0, "bottom": 0}
).configure(font=FONT).configure_view(stroke="transparent", strokeWidth=0)

chart.save("out.html", embed_options={"renderer": "svg", "actions": False})
